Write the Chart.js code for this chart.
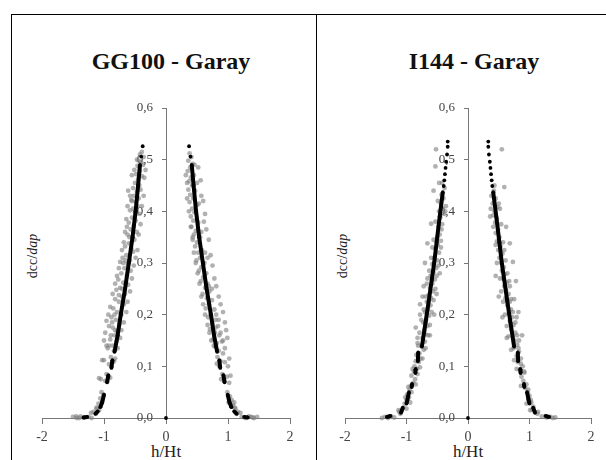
<!DOCTYPE html>
<html>
<head>
<meta charset="utf-8">
<script src="https://cdn.jsdelivr.net/npm/chart.js@4.4.0/dist/chart.umd.min.js"></script>
<style>
  html, body { margin: 0; padding: 0; background: #fff; }
  body { width: 606px; height: 460px; position: relative; overflow: hidden; font-family: "Liberation Serif", "Times New Roman", serif; }
  .frame { position: absolute; left: 11px; top: 14px; width: 700px; height: 600px; border-left: 1px solid #000; border-top: 1px solid #000; }
  .divider { position: absolute; left: 316px; top: 14px; width: 1px; height: 460px; background: #000; }
  canvas { position: absolute; }
  .title { position: absolute; font-weight: bold; font-size: 24px; color: #111; transform: translate(-50%, -50%); white-space: nowrap; }
  .ylab { position: absolute; font-size: 14px; color: #222; transform: translate(-50%, -50%) rotate(-90deg); white-space: nowrap; }
  .xlab { position: absolute; font-size: 17px; color: #222; transform: translate(-50%, -50%); white-space: nowrap; }
</style>
</head>
<body>
<div class="frame"></div>
<div class="divider"></div>

<div class="title" style="left:171px; top:61px;">GG100 - Garay</div>
<div class="title" style="left:474px; top:61px;">I144 - Garay</div>
<div class="ylab" style="left:33px; top:256px;">dcc/<i>dap</i></div>
<div class="ylab" style="left:343px; top:256px;">dcc/<i>dap</i></div>
<div class="xlab" style="left:166px; top:452px;">h/Ht</div>
<div class="xlab" style="left:468px; top:452px;">h/Ht</div>

<canvas id="chartGG100" width="304" height="445" style="left:12px; top:15px;"></canvas>
<canvas id="chartI144" width="289" height="445" style="left:317px; top:15px;"></canvas>

<script>
// axis ticks
const xTicks = [-2, -1, 0, 1, 2];
const yTicks = [0, 0.1, 0.2, 0.3, 0.4, 0.5, 0.6];

// fitted profile (black), null = gap between measurement groups
const gg100FitLeft = [
  [-0.376, 0.526], null, [-0.40, 0.506], null,
  [-0.42, 0.49], [-0.45, 0.45], [-0.49, 0.40], [-0.54, 0.35], [-0.60, 0.30], [-0.66, 0.25],
  [-0.73, 0.20], [-0.78, 0.16], [-0.83, 0.128], null,
  [-0.865, 0.112], [-0.88, 0.097], null,
  [-0.93, 0.083], [-0.95, 0.069], null,
  [-1.0, 0.045], [-1.03, 0.03], [-1.06, 0.021], null,
  [-1.1, 0.013], [-1.14, 0.008], null,
  [-1.33, 0.001], [-1.27, 0.002], null,
  [0, 0]
];
const gg100FitRight = [
  [0.372, 0.526], null, [0.395, 0.506], null,
  [0.415, 0.49], [0.445, 0.45], [0.485, 0.40], [0.535, 0.35], [0.595, 0.30], [0.655, 0.25],
  [0.725, 0.20], [0.775, 0.16], [0.825, 0.128], null,
  [0.86, 0.112], [0.875, 0.097], null,
  [0.925, 0.083], [0.945, 0.069], null,
  [0.995, 0.045], [1.025, 0.03], [1.055, 0.021], null,
  [1.1, 0.013], [1.14, 0.008], null,
  [1.26, 0.002], [1.32, 0.001]
];
const i144FitLeft = [
  [-0.33, 0.535], null, [-0.33, 0.525], null, [-0.34, 0.51], null, [-0.355, 0.496], null,
  [-0.365, 0.484], null, [-0.375, 0.472], null, [-0.385, 0.46], null, [-0.395, 0.449], null,
  [-0.41, 0.437], [-0.46, 0.39], [-0.51, 0.34], [-0.55, 0.30], [-0.59, 0.267], [-0.64, 0.225],
  [-0.69, 0.185], [-0.75, 0.138], null,
  [-0.81, 0.127], [-0.815, 0.11], null,
  [-0.85, 0.095], [-0.855, 0.087], null,
  [-0.91, 0.066], [-0.915, 0.06], null,
  [-0.96, 0.05], [-0.985, 0.035], [-1.0, 0.028], null,
  [-1.06, 0.02], [-1.09, 0.01], null,
  [-1.32, 0.002], [-1.26, 0.004], null,
  [0, 0]
];
const i144FitRight = [
  [0.33, 0.535], null, [0.33, 0.525], null, [0.34, 0.51], null, [0.355, 0.496], null,
  [0.365, 0.484], null, [0.375, 0.472], null, [0.385, 0.46], null, [0.395, 0.449], null,
  [0.41, 0.437], [0.46, 0.39], [0.51, 0.34], [0.55, 0.30], [0.59, 0.267], [0.64, 0.225],
  [0.69, 0.185], [0.75, 0.138], null,
  [0.81, 0.127], [0.815, 0.11], null,
  [0.85, 0.095], [0.855, 0.087], null,
  [0.91, 0.066], [0.915, 0.06], null,
  [0.96, 0.05], [0.985, 0.035], [1.0, 0.028], null,
  [1.06, 0.02], [1.09, 0.01], null,
  [1.26, 0.004], [1.32, 0.002]
];

// observed values (grey)
const gg100ObsLeft = [
  [-0.39, 0.515], [-0.42, 0.51], [-0.36, 0.505], [-0.44, 0.498], [-0.40, 0.495], [-0.37, 0.49], [-0.46, 0.488],
  [-0.42, 0.478], [-0.48, 0.472], [-0.39, 0.468], [-0.45, 0.462], [-0.50, 0.455], [-0.43, 0.45], [-0.41, 0.442],
  [-0.53, 0.445], [-0.47, 0.438], [-0.52, 0.43], [-0.44, 0.425], [-0.49, 0.418], [-0.56, 0.422], [-0.46, 0.41],
  [-0.53, 0.405], [-0.50, 0.398], [-0.58, 0.402], [-0.43, 0.395], [-0.55, 0.388], [-0.49, 0.382], [-0.60, 0.378],
  [-0.52, 0.372], [-0.57, 0.365], [-0.47, 0.36], [-0.62, 0.355], [-0.54, 0.35], [-0.51, 0.345], [-0.60, 0.338],
  [-0.66, 0.332], [-0.56, 0.328], [-0.53, 0.322], [-0.64, 0.315], [-0.70, 0.31], [-0.58, 0.305], [-0.62, 0.298],
  [-0.74, 0.302], [-0.67, 0.29], [-0.57, 0.285], [-0.72, 0.28], [-0.63, 0.276], [-0.77, 0.268], [-0.69, 0.262],
  [-0.61, 0.258], [-0.74, 0.252], [-0.80, 0.248], [-0.66, 0.24], [-0.71, 0.235], [-0.82, 0.23], [-0.76, 0.225],
  [-0.68, 0.22], [-0.85, 0.212], [-0.79, 0.205], [-0.72, 0.2], [-0.88, 0.195], [-0.81, 0.19], [-0.75, 0.182],
  [-0.86, 0.175], [-0.92, 0.178], [-0.79, 0.168], [-0.83, 0.16], [-0.90, 0.152], [-0.80, 0.148], [-0.86, 0.14],
  [-0.94, 0.135], [-0.84, 0.13], [-0.89, 0.118], [-1.0, 0.112], [-0.86, 0.108], [-0.92, 0.104], [-0.88, 0.1],
  [-0.96, 0.085], [-1.08, 0.077], [-0.93, 0.08], [-0.98, 0.072], [-0.95, 0.07], [-1.04, 0.05], [-1.01, 0.045],
  [-1.06, 0.038], [-1.03, 0.032], [-1.09, 0.028], [-1.12, 0.018], [-1.17, 0.012], [-1.13, 0.008], [-1.21, 0.01],
  [-1.5, 0.002], [-1.44, 0.0], [-1.38, 0.003], [-1.33, 0.001], [-1.25, 0.002], [-1.2, 0.0],
  [-0.33, 0.48], [-0.55, 0.47], [-0.58, 0.43], [-0.36, 0.43], [-0.62, 0.41], [-0.39, 0.41], [-0.64, 0.385],
  [-0.41, 0.375], [-0.66, 0.36], [-0.44, 0.355], [-0.68, 0.34], [-0.46, 0.325], [-0.71, 0.325], [-0.49, 0.31],
  [-0.76, 0.29], [-0.52, 0.295], [-0.79, 0.275], [-0.55, 0.27], [-0.82, 0.26], [-0.58, 0.245], [-0.86, 0.24],
  [-0.62, 0.225], [-0.90, 0.215], [-0.64, 0.205], [-0.93, 0.2], [-0.68, 0.185], [-0.96, 0.188], [-0.72, 0.17],
  [-0.98, 0.165], [-0.74, 0.155], [-1.0, 0.15], [-0.96, 0.14], [-1.03, 0.112], [-0.84, 0.11], [-0.82, 0.115],
  [-1.05, 0.075], [-0.90, 0.078], [-1.12, 0.02], [-1.08, 0.015], [-1.45, 0.003], [-1.4, 0.0], [-0.47, 0.5],
  [-0.35, 0.465], [-0.51, 0.48], [-0.61, 0.44], [-0.55, 0.42], [-0.63, 0.37], [-0.59, 0.35], [-0.69, 0.3],
  [-0.65, 0.305], [-0.76, 0.238], [-0.71, 0.25], [-0.83, 0.2], [-0.87, 0.185], [-0.82, 0.17], [-0.89, 0.16],
  [-0.92, 0.14], [-0.78, 0.135]
];
const gg100ObsRight = [
  [0.38, 0.512], [0.41, 0.505], [0.36, 0.498], [0.43, 0.492], [0.39, 0.485], [0.35, 0.478], [0.45, 0.47],
  [0.40, 0.465], [0.37, 0.458], [0.42, 0.45], [0.36, 0.442], [0.47, 0.44], [0.39, 0.432], [0.44, 0.425],
  [0.38, 0.418], [0.50, 0.412], [0.42, 0.405], [0.46, 0.398], [0.40, 0.39], [0.44, 0.382], [0.52, 0.378],
  [0.41, 0.37], [0.48, 0.362], [0.45, 0.355], [0.55, 0.35], [0.43, 0.345], [0.50, 0.34], [0.47, 0.332],
  [0.58, 0.325], [0.52, 0.32], [0.55, 0.31], [0.49, 0.305], [0.62, 0.3], [0.57, 0.292], [0.53, 0.285],
  [0.65, 0.28], [0.60, 0.272], [0.56, 0.265], [0.67, 0.26], [0.63, 0.252], [0.70, 0.245], [0.59, 0.24],
  [0.66, 0.232], [0.74, 0.228], [0.69, 0.22], [0.64, 0.212], [0.78, 0.21], [0.72, 0.2], [0.68, 0.195],
  [0.80, 0.19], [0.75, 0.182], [0.84, 0.178], [0.71, 0.172], [0.79, 0.165], [0.86, 0.16], [0.76, 0.152],
  [0.82, 0.145], [0.90, 0.148], [0.79, 0.138], [0.85, 0.13], [0.92, 0.125], [0.83, 0.118], [0.88, 0.11],
  [0.95, 0.108], [0.86, 0.1], [0.91, 0.085], [0.98, 0.08], [0.94, 0.072], [1.02, 0.068], [0.99, 0.05],
  [1.03, 0.042], [1.06, 0.035], [1.01, 0.03], [1.08, 0.025], [1.12, 0.018], [1.16, 0.012], [1.14, 0.008],
  [1.2, 0.01], [1.22, 0.002], [1.28, 0.0], [1.34, 0.003], [1.4, 0.001], [1.47, 0.002],
  [0.32, 0.47], [0.52, 0.485], [0.56, 0.46], [0.34, 0.425], [0.60, 0.42], [0.37, 0.4], [0.63, 0.395],
  [0.40, 0.37], [0.65, 0.365], [0.43, 0.35], [0.69, 0.345], [0.45, 0.32], [0.72, 0.315], [0.48, 0.3],
  [0.75, 0.295], [0.51, 0.28], [0.78, 0.27], [0.54, 0.26], [0.81, 0.255], [0.57, 0.235], [0.85, 0.235],
  [0.60, 0.22], [0.88, 0.22], [0.63, 0.2], [0.92, 0.205], [0.67, 0.18], [0.95, 0.185], [0.70, 0.165],
  [0.97, 0.17], [0.73, 0.15], [0.99, 0.155], [0.95, 0.135], [1.02, 0.115], [0.82, 0.105], [1.0, 0.1],
  [1.04, 0.082], [0.89, 0.075], [1.1, 0.03], [1.11, 0.02], [1.42, 0.0], [1.37, 0.002], [0.46, 0.49],
  [0.34, 0.455], [0.50, 0.455], [0.57, 0.43], [0.53, 0.415], [0.61, 0.38], [0.57, 0.36], [0.67, 0.31],
  [0.63, 0.32], [0.74, 0.25], [0.69, 0.255], [0.81, 0.2], [0.85, 0.19], [0.80, 0.175], [0.88, 0.165],
  [0.92, 0.15], [0.77, 0.14]
];
const i144ObsLeft = [
  [-0.52, 0.52], [-0.53, 0.487], [-0.47, 0.455], [-0.38, 0.445], [-0.43, 0.432], [-0.40, 0.425], [-0.56, 0.44],
  [-0.44, 0.415], [-0.41, 0.405], [-0.47, 0.4], [-0.39, 0.395], [-0.45, 0.388], [-0.60, 0.376], [-0.48, 0.37],
  [-0.43, 0.365], [-0.46, 0.355], [-0.50, 0.35], [-0.44, 0.343], [-0.66, 0.338], [-0.49, 0.335], [-0.53, 0.328],
  [-0.47, 0.32], [-0.55, 0.31], [-0.50, 0.305], [-0.70, 0.3], [-0.58, 0.298], [-0.52, 0.29], [-0.56, 0.282],
  [-0.61, 0.275], [-0.54, 0.268], [-0.58, 0.26], [-0.72, 0.255], [-0.62, 0.252], [-0.57, 0.245], [-0.64, 0.238],
  [-0.60, 0.232], [-0.67, 0.225], [-0.61, 0.218], [-0.78, 0.22], [-0.65, 0.21], [-0.70, 0.205], [-0.63, 0.198],
  [-0.68, 0.19], [-0.73, 0.185], [-0.66, 0.178], [-0.71, 0.17], [-0.85, 0.175], [-0.69, 0.162], [-0.74, 0.155],
  [-0.70, 0.148], [-0.76, 0.14], [-0.82, 0.145], [-0.72, 0.132], [-0.79, 0.125], [-0.84, 0.122], [-0.77, 0.115],
  [-0.80, 0.108], [-0.87, 0.1], [-0.83, 0.095], [-0.88, 0.09], [-0.82, 0.085], [-0.92, 0.082], [-0.86, 0.075],
  [-0.89, 0.068], [-0.93, 0.062], [-0.95, 0.055], [-0.92, 0.05], [-0.99, 0.045], [-0.96, 0.04], [-1.0, 0.035],
  [-1.03, 0.028], [-1.05, 0.02], [-1.08, 0.015], [-1.12, 0.012], [-1.10, 0.008], [-1.35, 0.002], [-1.3, 0.0],
  [-1.25, 0.003], [-1.2, 0.001],
  [-0.36, 0.41], [-0.49, 0.42], [-0.42, 0.375], [-0.53, 0.38], [-0.44, 0.33], [-0.56, 0.345], [-0.48, 0.295],
  [-0.60, 0.31], [-0.51, 0.275], [-0.63, 0.285], [-0.53, 0.25], [-0.67, 0.26], [-0.56, 0.228], [-0.69, 0.235],
  [-0.59, 0.205], [-0.72, 0.21], [-0.62, 0.18], [-0.76, 0.19], [-0.65, 0.16], [-0.79, 0.165], [-0.69, 0.135],
  [-0.81, 0.14], [-0.74, 0.115], [-0.85, 0.11], [-0.78, 0.098], [-0.90, 0.095], [-0.85, 0.065], [-0.97, 0.06],
  [-0.94, 0.03], [-1.02, 0.04], [-1.0, 0.018], [-1.13, 0.015], [-1.4, 0.0], [-0.42, 0.455], [-0.37, 0.4],
  [-0.58, 0.33], [-0.46, 0.28], [-0.66, 0.27], [-0.51, 0.24], [-0.74, 0.235], [-0.55, 0.2], [-0.78, 0.2],
  [-0.62, 0.16], [-0.82, 0.155]
];
const i144ObsRight = [
  [0.55, 0.52], [0.59, 0.447], [0.42, 0.44], [0.38, 0.43], [0.45, 0.425], [0.40, 0.415], [0.48, 0.408],
  [0.43, 0.4], [0.52, 0.405], [0.41, 0.392], [0.47, 0.385], [0.44, 0.378], [0.62, 0.37], [0.49, 0.365],
  [0.45, 0.358], [0.51, 0.35], [0.47, 0.342], [0.68, 0.338], [0.53, 0.332], [0.49, 0.325], [0.56, 0.318],
  [0.51, 0.31], [0.73, 0.302], [0.54, 0.3], [0.58, 0.292], [0.55, 0.285], [0.60, 0.278], [0.57, 0.27],
  [0.63, 0.262], [0.59, 0.255], [0.78, 0.265], [0.62, 0.248], [0.66, 0.24], [0.61, 0.232], [0.68, 0.225],
  [0.64, 0.218], [0.70, 0.21], [0.66, 0.202], [0.82, 0.205], [0.72, 0.195], [0.68, 0.188], [0.74, 0.18],
  [0.70, 0.172], [0.77, 0.165], [0.73, 0.158], [0.88, 0.16], [0.76, 0.15], [0.80, 0.142], [0.74, 0.135],
  [0.83, 0.128], [0.79, 0.12], [0.86, 0.115], [0.81, 0.108], [0.89, 0.1], [0.84, 0.093], [0.92, 0.088],
  [0.87, 0.08], [0.90, 0.072], [0.95, 0.065], [0.93, 0.058], [0.97, 0.05], [1.0, 0.043], [0.98, 0.037],
  [1.03, 0.03], [1.06, 0.022], [1.04, 0.016], [1.09, 0.012], [1.13, 0.008], [1.2, 0.003], [1.28, 0.001],
  [1.34, 0.002], [1.38, 0.0],
  [0.37, 0.405], [0.50, 0.415], [0.41, 0.37], [0.54, 0.375], [0.45, 0.335], [0.57, 0.34], [0.47, 0.3],
  [0.61, 0.305], [0.52, 0.27], [0.64, 0.28], [0.54, 0.245], [0.68, 0.255], [0.57, 0.225], [0.70, 0.23],
  [0.60, 0.2], [0.73, 0.205], [0.63, 0.178], [0.77, 0.185], [0.66, 0.158], [0.80, 0.16], [0.70, 0.132],
  [0.82, 0.135], [0.75, 0.112], [0.86, 0.105], [0.79, 0.095], [0.91, 0.09], [0.86, 0.062], [0.98, 0.055],
  [0.95, 0.028], [1.02, 0.035], [1.01, 0.015], [1.14, 0.012], [1.42, 0.001], [0.43, 0.45], [0.36, 0.39],
  [0.59, 0.325], [0.45, 0.275], [0.67, 0.265], [0.50, 0.235], [0.75, 0.23], [0.56, 0.195], [0.79, 0.195],
  [0.63, 0.155], [0.83, 0.15]
];

const toPoints = arr => arr.map(p => p ? { x: p[0], y: p[1] } : { x: 0, y: null });

const serif = "'Liberation Serif', 'Times New Roman', serif";

function fitSet(arr) {
    return {
        data: toPoints(arr),
        showLine: true,
        spanGaps: false,
        borderColor: '#000',
        borderWidth: 4,
        pointRadius: 1.9,
        pointBackgroundColor: '#000',
        pointBorderWidth: 0,
        clip: false
    };
}

function obsSet(arr) {
    return {
        data: toPoints(arr),
        showLine: false,
        pointRadius: 2.4,
        pointBackgroundColor: 'rgba(125,125,125,0.6)',
        pointBorderWidth: 0,
        clip: false
    };
}

function makeChart(id, fitL, fitR, obsL, obsR, pad) {
    new Chart(document.getElementById(id), {
        type: 'scatter',
        data: {
            datasets: [fitSet(fitL), fitSet(fitR), obsSet(obsL), obsSet(obsR)]
        },
        options: {
            responsive: false,
            animation: false,
            layout: { padding: pad },
            plugins: {
                legend: { display: false },
                tooltip: { enabled: false }
            },
            scales: {
                x: {
                    type: 'linear',
                    min: xTicks[0],
                    max: xTicks[xTicks.length - 1],
                    position: { y: 0 },
                    afterFit: s => { s.height = 0; },
                    afterBuildTicks: s => { s.ticks = xTicks.map(v => ({ value: v })); },
                    ticks: { color: '#444', font: { family: serif, size: 14 }, padding: 6, maxRotation: 0 },
                    grid: { drawOnChartArea: false, drawTicks: true, tickLength: 5, color: '#777' },
                    border: { color: '#777', width: 1 }
                },
                y: {
                    type: 'linear',
                    min: yTicks[0],
                    max: yTicks[yTicks.length - 1],
                    position: { x: 0 },
                    afterFit: s => { s.width = 0; },
                    afterBuildTicks: s => { s.ticks = yTicks.map(v => ({ value: v })); },
                    ticks: {
                        color: '#444',
                        font: { family: serif, size: 13 },
                        // labels are right-aligned on the axis line, the figure spaces push them off it
                        callback: v => v.toFixed(1).replace('.', ',') + '\u2007\u2007'
                    },
                    grid: { drawOnChartArea: false, drawTicks: true, tickLength: 4, color: '#777' },
                    border: { color: '#777', width: 1 }
                }
            }
        }
    });
}

makeChart('chartGG100', gg100FitLeft, gg100FitRight, gg100ObsLeft, gg100ObsRight,
    { left: 30, right: 26, top: 93, bottom: 42 });
makeChart('chartI144', i144FitLeft, i144FitRight, i144ObsLeft, i144ObsRight,
    { left: 28, right: 15, top: 93, bottom: 42 });
</script>
</body>
</html>
